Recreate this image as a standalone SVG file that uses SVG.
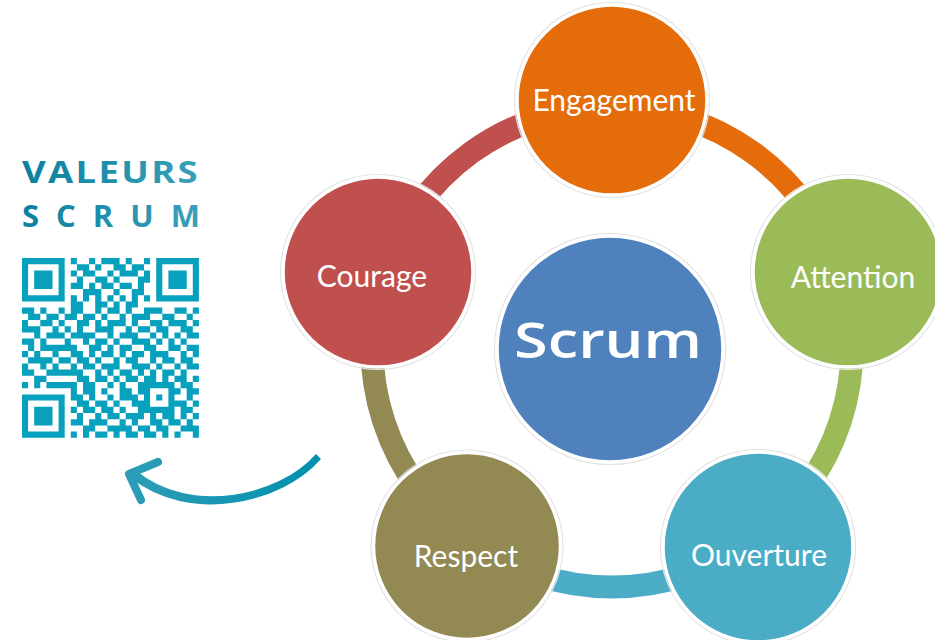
<svg xmlns="http://www.w3.org/2000/svg" width="935" height="640" viewBox="0 0 935 640">
<defs>
<linearGradient id="gTitle" x1="22" y1="0" x2="200" y2="0" gradientUnits="userSpaceOnUse"><stop offset="0" stop-color="#0a809f"/><stop offset="1" stop-color="#3aa0b9"/></linearGradient>
<linearGradient id="gArrow" x1="125" y1="0" x2="320" y2="0" gradientUnits="userSpaceOnUse"><stop offset="0" stop-color="#2e9db6"/><stop offset="1" stop-color="#0091ae"/></linearGradient>
</defs>
<style>
.title{font-family:"Open Sans","Liberation Sans",sans-serif;font-weight:700;font-size:31px;fill:url(#gTitle)}
.halo{fill:none;stroke:#e2e2e2;stroke-width:1.2}
.disc{stroke:#fff;stroke-width:3.5}
.lbl{font-family:Lato,"Liberation Sans",sans-serif;font-size:30px;fill:#fff;text-anchor:middle}
.arc{fill:none;stroke-width:23}
</style>
<rect width="935" height="640" fill="#fff"/>

<g id="title">
<text class="title" x="22" y="183" textLength="178" lengthAdjust="spacingAndGlyphs" letter-spacing="2">VALEURS</text>
<text class="title" x="22" y="227" letter-spacing="17">SCRUM</text>
</g>

<g id="qr" transform="translate(22,258) scale(6.1,6.2)">
<path fill="#07a0bd" fill-rule="evenodd" d="M0 0h7v7h-7zM1 1h5v5h-5zM2 2h3v3h-3zM22 0h7v7h-7zM23 1h5v5h-5zM24 2h3v3h-3zM0 22h7v7h-7zM1 23h5v5h-5zM2 24h3v3h-3zM20 20h5v5h-5zM21 21h3v3h-3zM22 22h1v1h-1z
M8 0h1v1h-1zM11 0h1v1h-1zM13 0h3v1h-3zM17 0h1v1h-1zM20 0h1v1h-1z
M9 1h2v1h-2zM12 1h1v1h-1zM15 1h2v1h-2zM18 1h2v1h-2z
M8 2h1v1h-1zM10 2h2v1h-2zM14 2h1v1h-1zM16 2h3v1h-3zM20 2h1v1h-1z
M9 3h1v1h-1zM12 3h2v1h-2zM15 3h1v1h-1zM19 3h2v1h-2z
M8 4h2v1h-2zM11 4h1v1h-1zM13 4h2v1h-2zM16 4h2v1h-2zM19 4h1v1h-1z
M10 5h3v1h-3zM15 5h1v1h-1zM18 5h2v1h-2z
M8 6h1v1h-1zM10 6h1v1h-1zM12 6h1v1h-1zM14 6h1v1h-1zM16 6h1v1h-1zM18 6h1v1h-1zM20 6h1v1h-1z
M8 7h2v1h-2zM12 7h2v1h-2zM15 7h1v1h-1zM17 7h2v1h-2z
M0 8h2v1h-2zM3 8h1v1h-1zM6 8h1v1h-1zM8 8h2v1h-2zM12 8h1v1h-1zM14 8h2v1h-2zM17 8h1v1h-1zM20 8h3v1h-3zM25 8h2v1h-2zM28 8h1v1h-1z
M1 9h2v1h-2zM4 9h2v1h-2zM7 9h2v1h-2zM10 9h2v1h-2zM13 9h1v1h-1zM16 9h1v1h-1zM18 9h3v1h-3zM23 9h2v1h-2zM27 9h1v1h-1z
M0 10h1v1h-1zM3 10h2v1h-2zM6 10h1v1h-1zM9 10h2v1h-2zM12 10h1v1h-1zM14 10h3v1h-3zM18 10h1v1h-1zM21 10h2v1h-2zM24 10h3v1h-3zM28 10h1v1h-1z
M0 11h3v1h-3zM5 11h1v1h-1zM7 11h1v1h-1zM9 11h1v1h-1zM12 11h3v1h-3zM17 11h1v1h-1zM19 11h2v1h-2zM22 11h2v1h-2zM26 11h2v1h-2z
M2 12h1v1h-1zM4 12h3v1h-3zM8 12h4v1h-4zM14 12h1v1h-1zM16 12h3v1h-3zM21 12h1v1h-1zM23 12h1v1h-1zM25 12h1v1h-1zM27 12h2v1h-2z
M0 13h2v1h-2zM3 13h1v1h-1zM7 13h1v1h-1zM10 13h1v1h-1zM12 13h2v1h-2zM15 13h1v1h-1zM18 13h3v1h-3zM22 13h1v1h-1zM24 13h1v1h-1zM26 13h1v1h-1z
M1 14h1v1h-1zM3 14h6v1h-6zM11 14h2v1h-2zM14 14h1v1h-1zM16 14h2v1h-2zM20 14h2v1h-2zM24 14h2v1h-2zM27 14h2v1h-2z
M0 15h1v1h-1zM2 15h1v1h-1zM5 15h1v1h-1zM8 15h2v1h-2zM11 15h1v1h-1zM13 15h2v1h-2zM16 15h1v1h-1zM18 15h2v1h-2zM21 15h3v1h-3zM26 15h1v1h-1zM28 15h1v1h-1z
M1 16h4v1h-4zM6 16h2v1h-2zM9 16h2v1h-2zM12 16h1v1h-1zM15 16h1v1h-1zM17 16h2v1h-2zM21 16h1v1h-1zM23 16h2v1h-2zM26 16h2v1h-2z
M0 17h1v1h-1zM3 17h1v1h-1zM5 17h1v1h-1zM8 17h1v1h-1zM10 17h2v1h-2zM13 17h3v1h-3zM18 17h3v1h-3zM22 17h1v1h-1zM25 17h1v1h-1zM27 17h2v1h-2z
M0 18h2v1h-2zM4 18h6v1h-6zM12 18h1v1h-1zM14 18h1v1h-1zM16 18h2v1h-2zM19 18h1v1h-1zM21 18h1v1h-1zM23 18h2v1h-2zM26 18h1v1h-1z
M2 19h2v1h-2zM9 19h2v1h-2zM12 19h2v1h-2zM15 19h1v1h-1zM17 19h2v1h-2zM20 19h2v1h-2zM23 19h1v1h-1zM25 19h2v1h-2zM28 19h1v1h-1z
M0 20h1v1h-1zM2 20h1v1h-1zM4 20h5v1h-5zM10 20h2v1h-2zM14 20h1v1h-1zM16 20h1v1h-1zM19 20h1v1h-1zM26 20h2v1h-2z
M8 21h1v1h-1zM10 21h2v1h-2zM13 21h1v1h-1zM16 21h2v1h-2zM19 21h1v1h-1zM25 21h1v1h-1zM27 21h2v1h-2z
M8 22h2v1h-2zM11 22h1v1h-1zM14 22h1v1h-1zM16 22h3v1h-3zM27 22h1v1h-1z
M9 23h2v1h-2zM12 23h2v1h-2zM15 23h1v1h-1zM18 23h2v1h-2zM25 23h2v1h-2zM28 23h1v1h-1z
M8 24h1v1h-1zM10 24h2v1h-2zM13 24h2v1h-2zM16 24h1v1h-1zM19 24h1v1h-1zM26 24h2v1h-2z
M9 25h1v1h-1zM12 25h1v1h-1zM14 25h2v1h-2zM17 25h3v1h-3zM21 25h1v1h-1zM23 25h2v1h-2zM26 25h1v1h-1zM28 25h1v1h-1z
M8 26h2v1h-2zM11 26h3v1h-3zM16 26h1v1h-1zM18 26h1v1h-1zM21 26h2v1h-2zM24 26h2v1h-2zM27 26h1v1h-1z
M10 27h2v1h-2zM14 27h4v1h-4zM19 27h2v1h-2zM22 27h2v1h-2zM26 27h3v1h-3z
M8 28h1v1h-1zM10 28h1v1h-1zM12 28h2v1h-2zM15 28h1v1h-1zM17 28h2v1h-2zM20 28h2v1h-2zM23 28h1v1h-1zM25 28h1v1h-1zM28 28h1v1h-1z"/>
</g>

<g id="arrow">
<path d="M316 455 C279 497 190 516 135.5 471 L130.5 477 C190 524 281 503 320 459 Z" fill="url(#gArrow)" stroke="url(#gArrow)" stroke-width="1.5" stroke-linejoin="round"/>
<path d="M158 462 L129 474 L141 500" fill="none" stroke="url(#gArrow)" stroke-width="8" stroke-linecap="round" stroke-linejoin="round"/>
</g>

<g id="connectors">
<path class="arc" stroke="#E46C0A" d="M612 107 A240 240 0 0 1 840.3 272.8"/>
<path class="arc" stroke="#9BBB59" d="M840.3 272.8 A240 240 0 0 1 753.1 541.2"/>
<path class="arc" stroke="#4BACC6" d="M753.1 541.2 A240 240 0 0 1 470.9 541.2"/>
<path class="arc" stroke="#938953" d="M470.9 541.2 A240 240 0 0 1 383.7 272.8"/>
<path class="arc" stroke="#C0504D" d="M383.7 272.8 A240 240 0 0 1 612 107"/>
</g>

<g id="scrum">
<circle class="halo" cx="610" cy="349" r="115.5"/>
<circle class="disc" cx="610" cy="349" r="113" fill="#4F81BD"/>
<text x="608" y="358" textLength="188" lengthAdjust="spacingAndGlyphs" text-anchor="middle" font-family="'Open Sans','Liberation Sans',sans-serif" font-weight="600" font-size="49" fill="#fff">Scrum</text>
</g>

<g id="engagement">
<circle class="halo" cx="612" cy="100" r="97.5"/>
<circle class="disc" cx="612" cy="100" r="95" fill="#E46C0A"/>
<text class="lbl" x="614" y="111">Engagement</text>
</g>

<g id="attention">
<circle class="halo" cx="848" cy="272" r="97.5"/>
<circle class="disc" cx="848" cy="272" r="95" fill="#9BBB59"/>
<text class="lbl" x="853" y="288">Attention</text>
</g>

<g id="ouverture">
<circle class="halo" cx="758" cy="547" r="97.5"/>
<circle class="disc" cx="758" cy="547" r="95" fill="#4BACC6"/>
<text class="lbl" x="759" y="566">Ouverture</text>
</g>

<g id="respect">
<circle class="halo" cx="467" cy="546" r="96"/>
<circle class="disc" cx="467" cy="546" r="93.5" fill="#938953"/>
<text class="lbl" x="466" y="567">Respect</text>
</g>

<g id="courage">
<circle class="halo" cx="378" cy="272" r="97.5"/>
<circle class="disc" cx="378" cy="272" r="95" fill="#C0504D"/>
<text class="lbl" x="372" y="287">Courage</text>
</g>
</svg>
